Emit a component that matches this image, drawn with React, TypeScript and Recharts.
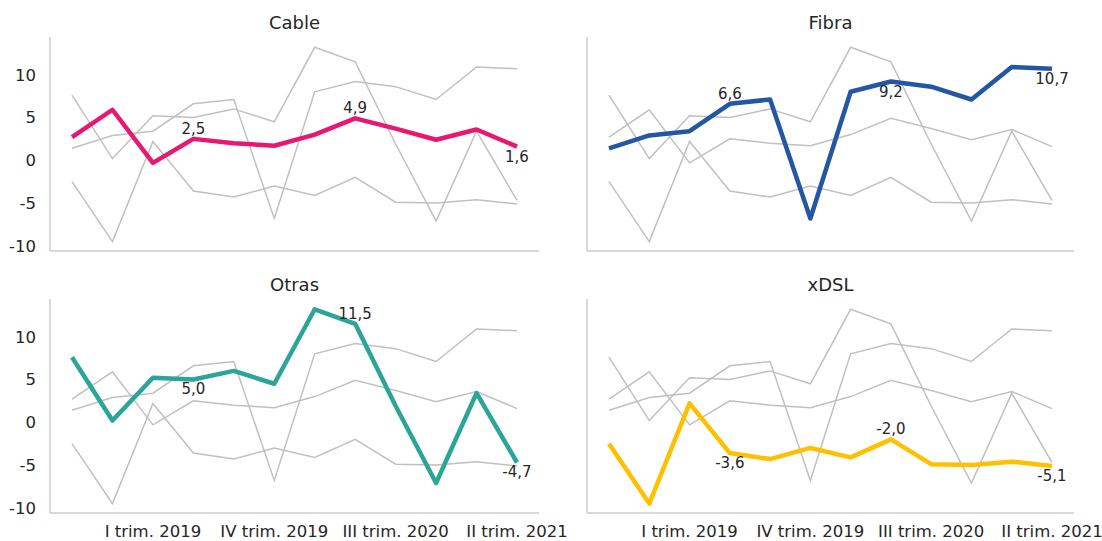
import React from "react";
import { LineChart, Line, XAxis, YAxis } from "recharts";

const categories = [
  "III trim. 2018", "IV trim. 2018", "I trim. 2019", "II trim. 2019",
  "III trim. 2019", "IV trim. 2019", "I trim. 2020", "II trim. 2020",
  "III trim. 2020", "IV trim. 2020", "I trim. 2021", "II trim. 2021",
];
const tickLabels = ["I trim. 2019", "IV trim. 2019", "III trim. 2020", "II trim. 2021"];
const yTicks = [-10, -5, 0, 5, 10];

const cable = [2.7, 5.9, -0.3, 2.5, 2.0, 1.7, 3.0, 4.9, 3.7, 2.4, 3.6, 1.6];
const fibra = [1.4, 2.9, 3.4, 6.6, 7.1, -6.8, 8.0, 9.2, 8.6, 7.1, 10.9, 10.7];
const otras = [7.6, 0.2, 5.2, 5.0, 6.0, 4.5, 13.2, 11.5, 1.9, -7.1, 3.4, -4.7];
const xdsl = [-2.5, -9.5, 2.2, -3.6, -4.3, -3.0, -4.1, -2.0, -4.9, -5.0, -4.6, -5.1];

const seriesNames = ["Cable", "Fibra", "Otras", "xDSL"];
const seriesValues = [cable, fibra, otras, xdsl];
const labelIndices = [3, 7, 11];

const rows = categories.map((q, i) => {
  const r: Record<string, any> = { q };
  seriesNames.forEach((n, k) => (r[n] = seriesValues[k][i]));
  return r;
});

const FONT = "'DejaVu Sans', sans-serif";
const TEXT = "#262626";
const GRAY = "#c0c0c0";
const AXIS = "#cccccc";

const panels = [
  { name: "Cable", color: "#E8176F", left: 0, top: 0, bottom: false, yLabels: true, place: ["up", "up", "down"] },
  { name: "Fibra", color: "#2356A3", left: 537, top: 0, bottom: false, yLabels: false, place: ["up", "down", "down"] },
  { name: "Otras", color: "#2BA597", left: 0, top: 262, bottom: true, yLabels: true, place: ["down", "up", "down"] },
  { name: "xDSL", color: "#FFC000", left: 537, top: 262, bottom: true, yLabels: false, place: ["down", "up", "down"] },
];

const fmt = (v: number) => v.toFixed(1).replace(".", ",");

function Panel({ p }: { p: (typeof panels)[number] }) {
  const W = p.left === 0 ? 580 : 565;
  const plotRight = p.left === 0 ? 539 : 1074;
  const rightM = p.left + W - plotRight;
  const H = p.bottom ? 279 : 265;
  const others = seriesNames.filter((n) => n !== p.name);
  const renderLabel = (props: any) => {
    const { x, y, index, value } = props;
    const k = labelIndices.indexOf(index);
    if (k < 0 || x == null || y == null) return null;
    const up = p.place[k] === "up";
    return (
      <text
        key={`lbl-${index}`}
        x={x}
        y={up ? y - 5 : y + 15}
        textAnchor="middle"
        fontSize={15}
        fontFamily={FONT}
        fill={TEXT}
      >
        {fmt(value)}
      </text>
    );
  };
  return (
    <div style={{ position: "absolute", left: p.left, top: p.top }}>
      <LineChart width={W} height={H} data={rows} margin={{ top: 37, right: rightM, bottom: p.bottom ? 0 : 13, left: 0 }}>
        <XAxis
          dataKey="q"
          interval={0}
          padding={{ left: 22, right: 22 }}
          tickLine={false}
          tickSize={6}
          tickMargin={6}
          axisLine={{ stroke: AXIS, strokeWidth: 1.5 }}
          height={p.bottom ? 28 : 1}
          tick={p.bottom ? { fill: TEXT, fontSize: 16.5, fontFamily: FONT } : false}
          tickFormatter={(v: string) => (tickLabels.includes(v) ? v : "")}
        />
        <YAxis
          type="number"
          domain={[-10.6, 14.4]}
          ticks={yTicks}
          allowDataOverflow
          width={50}
          tickLine={false}
          tickSize={6}
          tickMargin={8}
          axisLine={{ stroke: AXIS, strokeWidth: 1.5 }}
          tick={p.yLabels ? { fill: TEXT, fontSize: 16.5, fontFamily: FONT } : false}
        />
        {others.map((n) => (
          <Line
            key={n}
            type="linear"
            dataKey={n}
            stroke={GRAY}
            strokeWidth={1.5}
            dot={false}
            activeDot={false}
            isAnimationActive={false}
          />
        ))}
        <Line
          type="linear"
          dataKey={p.name}
          stroke={p.color}
          strokeWidth={4.5}
          strokeLinejoin="round"
          dot={false}
          activeDot={false}
          label={renderLabel}
          isAnimationActive={false}
        />
      </LineChart>
    </div>
  );
}

export default function App() {
  return (
    <div style={{ position: "absolute", left: 0, top: 0, width: 1102, height: 541, background: "#fff", overflow: "hidden" }}>
      {panels.map((p) => (
        <Panel key={p.name} p={p} />
      ))}
      <svg width={1102} height={541} style={{ position: "absolute", left: 0, top: 0, pointerEvents: "none" }}>
        {panels.map((p) => {
          const x0 = p.left + 50;
          const x1 = p.left === 0 ? 539 : 1074;
          return (
            <text
              key={p.name}
              x={(x0 + x1) / 2}
              y={p.top + 29}
              textAnchor="middle"
              fontSize={18}
              fontFamily={FONT}
              fill={TEXT}
            >
              {p.name}
            </text>
          );
        })}
      </svg>
    </div>
  );
}
